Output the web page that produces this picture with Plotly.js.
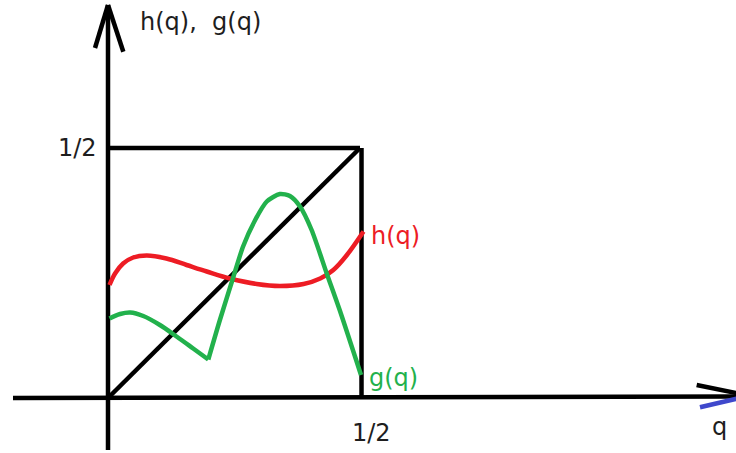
<!DOCTYPE html>
<html>
<head>
<meta charset="utf-8">
<script src="https://cdn.plot.ly/plotly-3.0.1.min.js"></script>
<style>html,body{margin:0;padding:0;background:#fff;}#chart{width:736px;height:453px;}</style>
</head>
<body>
<div id="chart"></div>
<script>
// h(q) curve
const hQ   = [0.003, 0.014, 0.030, 0.050, 0.077, 0.116, 0.156, 0.196, 0.242, 0.295, 0.341, 0.388, 0.421, 0.447, 0.474, 0.507];
const hVal = [0.226, 0.249, 0.269, 0.281, 0.285, 0.279, 0.266, 0.253, 0.239, 0.228, 0.224, 0.228, 0.239, 0.256, 0.286, 0.333];
// g(q) curve (index 7 is the sharp corner)
const gQ   = [0.003, 0.024, 0.044, 0.070, 0.103, 0.136, 0.169, 0.199, 0.222, 0.249, 0.268, 0.292, 0.315, 0.341, 0.361, 0.381, 0.404, 0.434, 0.462, 0.502];
const gVal = [0.159, 0.168, 0.171, 0.164, 0.146, 0.123, 0.099, 0.077, 0.156, 0.243, 0.303, 0.356, 0.393, 0.408, 0.404, 0.383, 0.336, 0.249, 0.169, 0.046];
const gCorner = 7;
// diagonal q = q and the square
const diagQ = [0, 0.5];
const half = 0.5;
const xTickLabel = '1/2';
const yTickLabel = '1/2';
const curveLabels = ['h(q)', 'g(q)'];
const axisLabels = ['q', 'h(q),  g(q)'];

const RED = '#ed1c24', GREEN = '#22b14c', BLUE = '#3f48cc', INK = '#1e1e1e';
const FONT = 'DejaVu Sans';

const traces = [
  {x: diagQ, y: diagQ, mode: 'lines', line: {color: '#000', width: 4.5}},
  {x: hQ, y: hVal, mode: 'lines', line: {color: RED, width: 4.5, shape: 'spline', smoothing: 1}},
  {x: gQ.slice(0, gCorner + 1), y: gVal.slice(0, gCorner + 1), mode: 'lines', line: {color: GREEN, width: 4.5, shape: 'spline', smoothing: 1}},
  {x: gQ.slice(gCorner), y: gVal.slice(gCorner), mode: 'lines', line: {color: GREEN, width: 4.5, shape: 'spline', smoothing: 0.7}}
];

function seg(x0, y0, x1, y1, color) {
  return {type: 'line', xref: 'x', yref: 'y', x0: x0, y0: y0, x1: x1, y1: y1,
          line: {color: color || '#000', width: 4.5}, layer: 'below'};
}

const shapes = [
  seg(-0.1885, 0, 1.2698, 0.003),            // q axis
  seg(0, -0.104, 0, 0.786),                  // vertical axis
  seg(0, 0.786, -0.0258, 0.700),             // arrow head
  seg(0, 0.786, 0.0304, 0.6926),
  seg(1.2698, 0.005, 1.168, 0.026),
  seg(1.2698, 0.004, 1.1746, -0.0186, BLUE),
  seg(0, half, half, half),                  // square top
  seg(half + 0.003, 0, half + 0.003, half)   // square right
];

const annotations = [
  {x: 0.06, y: 0.752, text: axisLabels[1], xanchor: 'left', yanchor: 'middle', font: {color: INK}},
  {x: -0.018, y: half, text: yTickLabel, xanchor: 'right', yanchor: 'middle', font: {color: INK}},
  {x: 0.522, y: -0.07, text: xTickLabel, xanchor: 'center', yanchor: 'middle', font: {color: INK}},
  {x: 1.214, y: -0.058, text: axisLabels[0], xanchor: 'center', yanchor: 'middle', font: {color: INK}},
  {x: 0.518, y: 0.324, text: curveLabels[0], xanchor: 'left', yanchor: 'middle', font: {color: RED}},
  {x: 0.514, y: 0.040, text: curveLabels[1], xanchor: 'left', yanchor: 'middle', font: {color: GREEN}}
].map(a => Object.assign({xref: 'x', yref: 'y', showarrow: false}, a));

const layout = {
  width: 736, height: 453,
  margin: {l: 0, r: 0, t: 0, b: 0},
  paper_bgcolor: '#fff', plot_bgcolor: '#fff',
  showlegend: false,
  font: {family: FONT, size: 24, color: INK},
  xaxis: {range: [-108 / 504, 628 / 504], visible: false, fixedrange: true},
  yaxis: {range: [-55 / 500, 398 / 500], visible: false, fixedrange: true},
  shapes: shapes,
  annotations: annotations
};

Plotly.newPlot('chart', traces, layout, {displayModeBar: false, staticPlot: true});
</script>
</body>
</html>
